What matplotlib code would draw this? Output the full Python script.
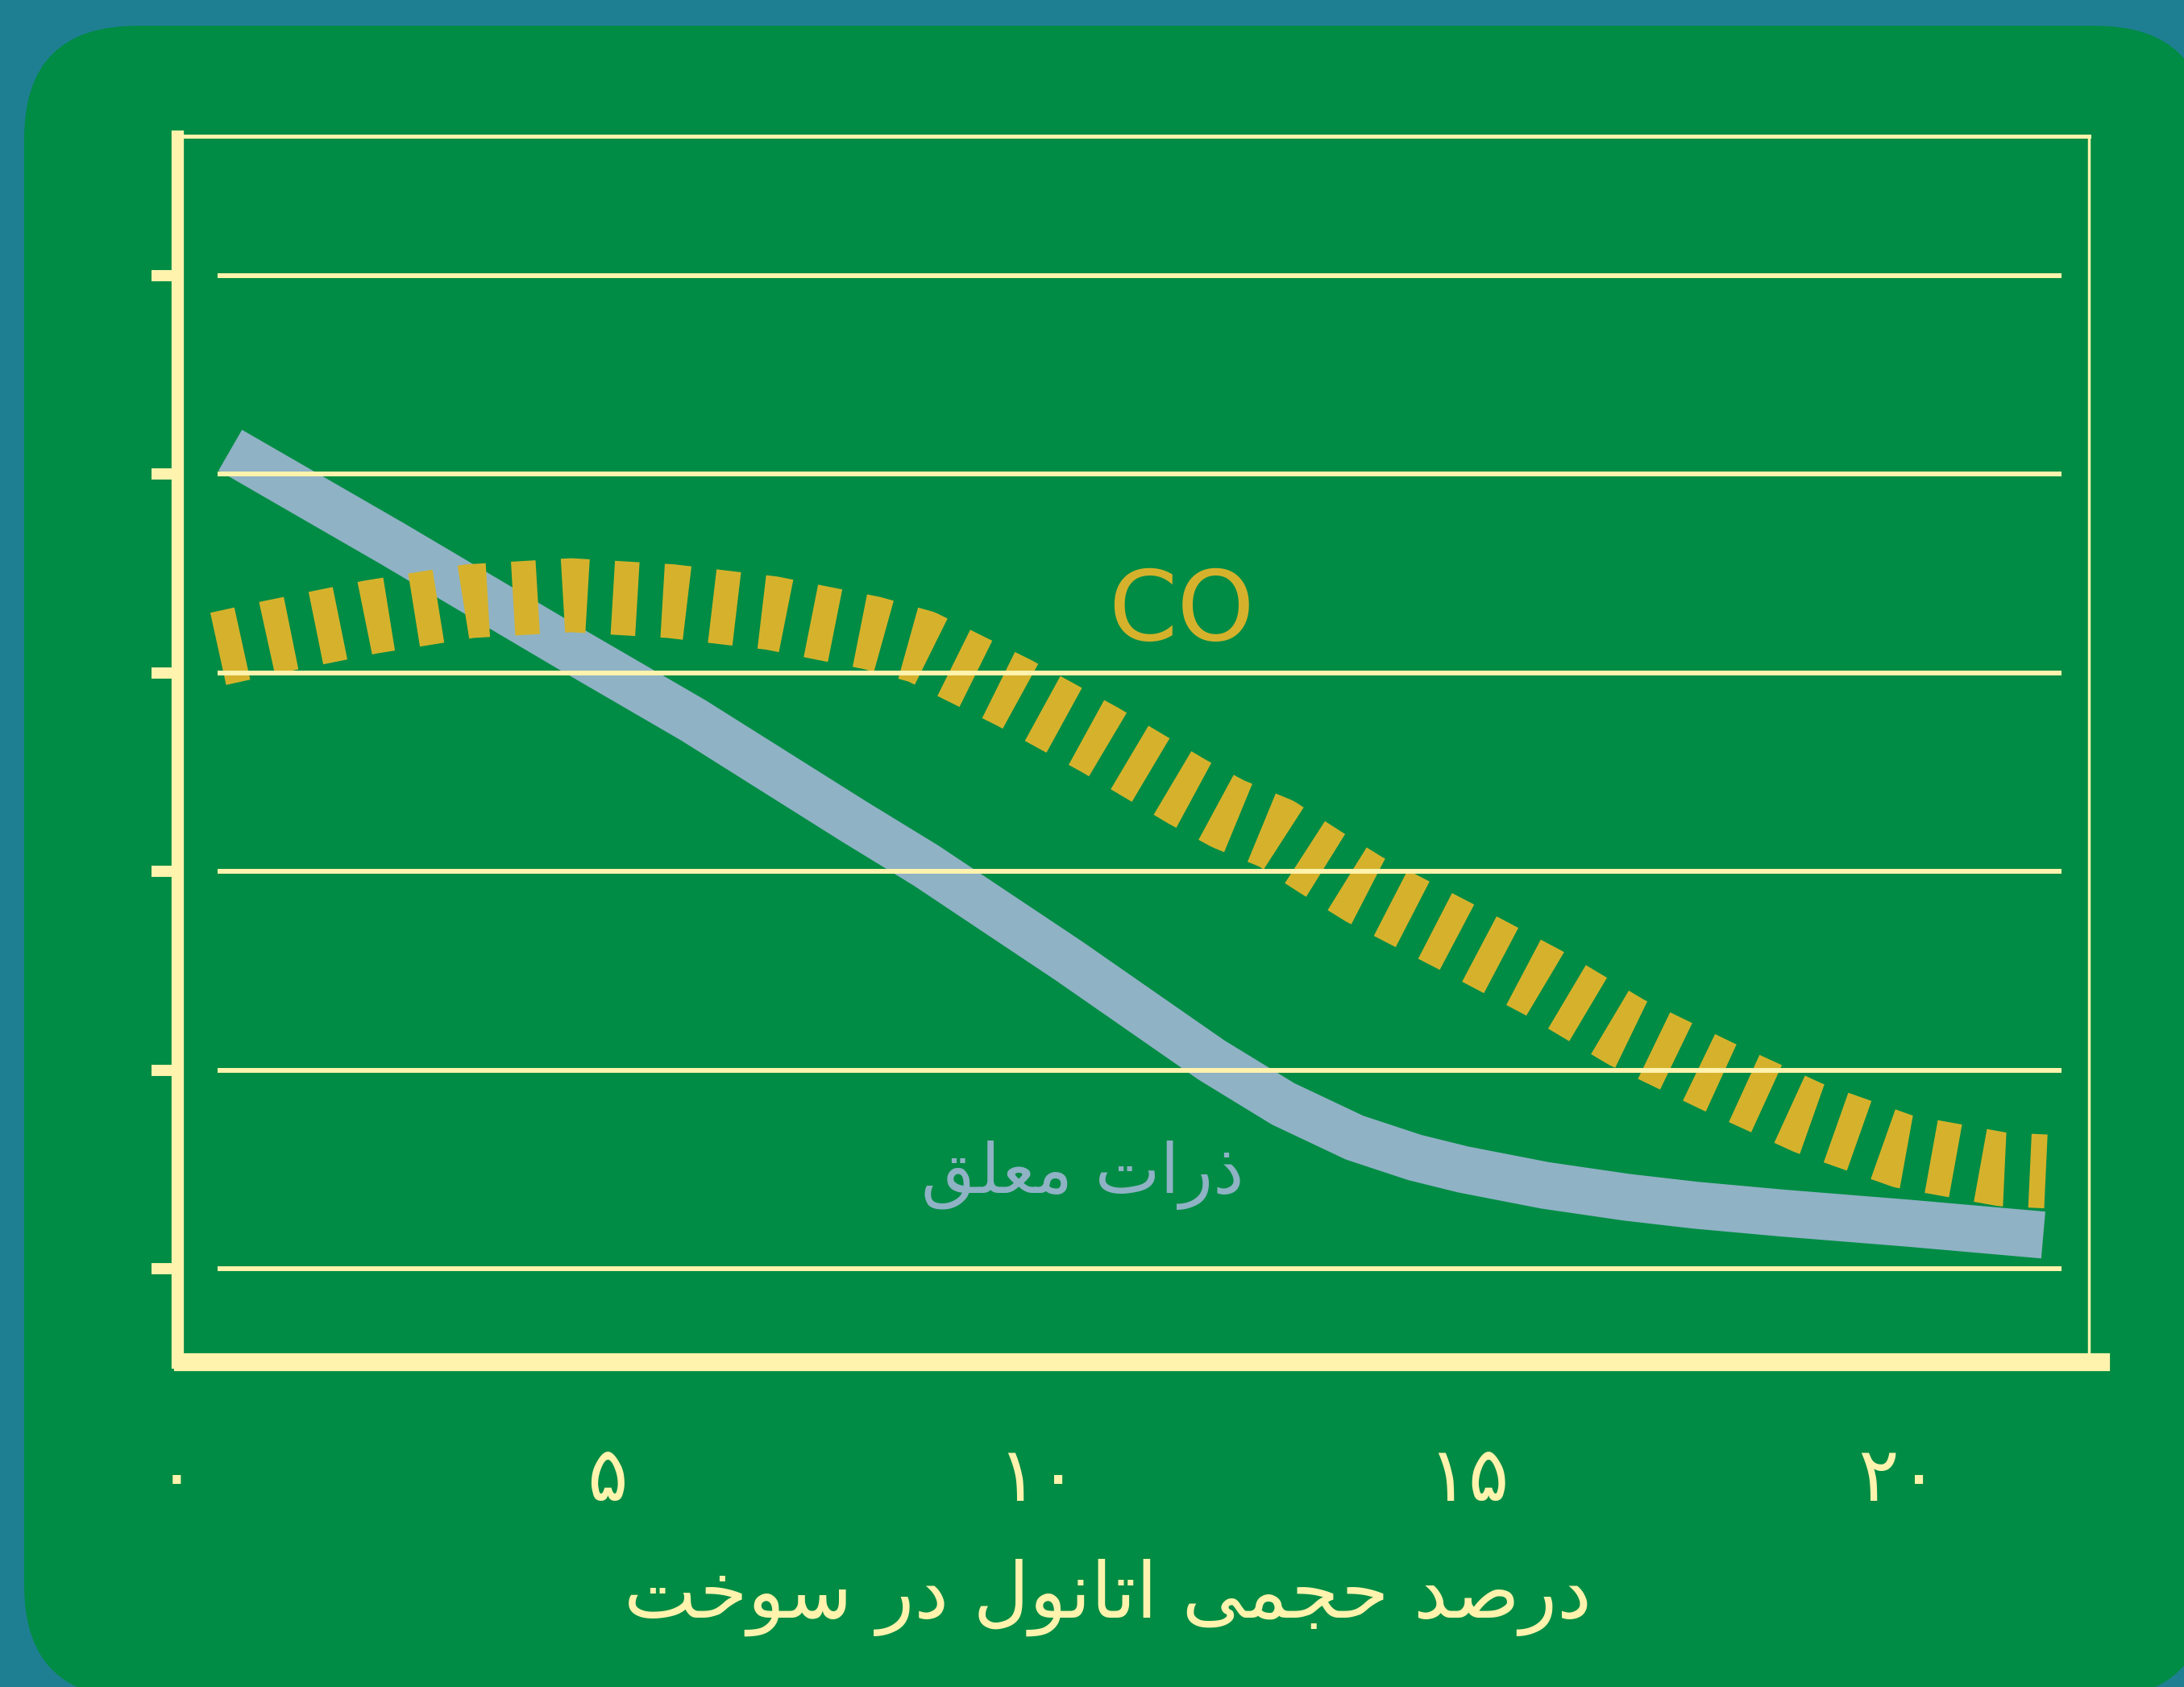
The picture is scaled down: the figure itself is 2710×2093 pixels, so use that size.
import matplotlib
matplotlib.use('Agg')
import matplotlib.pyplot as plt
from matplotlib.patches import FancyBboxPatch

# داده‌ها (خوانده شده از تصویر)
ethanol = [0, 5, 10, 15, 20]
tick_labels = ['۰', '۵', '۱۰', '۱۵', '۲۰']
grid_vals = [0, 1, 2, 3, 4, 5]

pm_x = [0.62, 2.5, 4.53, 6.0, 7.87, 8.70, 9.53, 10.36, 11.19, 12.02, 12.85, 13.68, 14.38,
        14.94, 15.89, 16.84, 17.64, 18.66, 20.1, 21.68]
pm_y = [4.12, 3.65, 3.13, 2.76, 2.25, 2.03, 1.79, 1.55, 1.30, 1.05, 0.83, 0.66, 0.56,
        0.50, 0.42, 0.36, 0.32, 0.28, 0.23, 0.17]

co_x = [0.48, 1.11, 2.25, 3.40, 4.58, 5.74, 6.91, 8.07, 8.65, 9.72, 10.73, 11.74, 12.21, 12.77,
        13.27, 13.79, 14.82, 15.87, 16.84, 17.89, 18.95, 20.06, 21.21, 21.71]
co_y = [3.12, 3.18, 3.28, 3.36, 3.39, 3.36, 3.30, 3.20, 3.13, 2.90, 2.66, 2.40, 2.29, 2.19,
        2.05, 1.91, 1.68, 1.44, 1.19, 0.97, 0.76, 0.59, 0.50, 0.49]

xlabel = 'درصد حجمی اتانول در سوخت'
pm_label = 'ذرات معلق'
co_label = 'CO'

# رنگ‌ها
bg_col = '#1f7f92'
green = '#008c44'
cream = '#fff3ad'
gold = '#d6b22c'
blue = '#8fb2c5'

# شکل‌دهی ساده حروف فارسی (matplotlib خودش این کار را نمی‌کند)
FORMS = {
    'ا': ('\uFE8D', '\uFE8E', None, None),
    'د': ('\uFEA9', '\uFEAA', None, None),
    'ذ': ('\uFEAB', '\uFEAC', None, None),
    'ر': ('\uFEAD', '\uFEAE', None, None),
    'و': ('\uFEED', '\uFEEE', None, None),
    'ت': ('\uFE95', '\uFE96', '\uFE97', '\uFE98'),
    'ج': ('\uFE9D', '\uFE9E', '\uFE9F', '\uFEA0'),
    'ح': ('\uFEA1', '\uFEA2', '\uFEA3', '\uFEA4'),
    'خ': ('\uFEA5', '\uFEA6', '\uFEA7', '\uFEA8'),
    'س': ('\uFEB1', '\uFEB2', '\uFEB3', '\uFEB4'),
    'ص': ('\uFEB9', '\uFEBA', '\uFEBB', '\uFEBC'),
    'ع': ('\uFEC9', '\uFECA', '\uFECB', '\uFECC'),
    'ق': ('\uFED5', '\uFED6', '\uFED7', '\uFED8'),
    'ل': ('\uFEDD', '\uFEDE', '\uFEDF', '\uFEE0'),
    'م': ('\uFEE1', '\uFEE2', '\uFEE3', '\uFEE4'),
    'ن': ('\uFEE5', '\uFEE6', '\uFEE7', '\uFEE8'),
    'ی': ('\uFBFC', '\uFBFD', '\uFBFE', '\uFBFF'),
}


def shape(text):
    out = []
    for i, ch in enumerate(text):
        if ch not in FORMS:
            out.append(ch)
            continue
        f = FORMS[ch]
        prev = text[i - 1] if i > 0 else ''
        nxt = text[i + 1] if i < len(text) - 1 else ''
        jp = prev in FORMS and FORMS[prev][2] is not None
        jn = f[2] is not None and nxt in FORMS
        if jp and jn:
            out.append(f[3])
        elif jp:
            out.append(f[1])
        elif jn:
            out.append(f[2])
        else:
            out.append(f[0])
    return ''.join(reversed(out))


plt.rcParams['lines.scale_dashes'] = False
plt.rcParams['font.family'] = ['DejaVu Sans']

W, H = 2710, 2093
fig = plt.figure(figsize=(W / 100, H / 100), dpi=100)
fig.patch.set_facecolor(bg_col)

# پس‌زمینه سبز با گوشه‌های گرد
bg = fig.add_axes([0, 0, 1, 1])
bg.set_xlim(0, W)
bg.set_ylim(H, 0)
bg.axis('off')
bg.add_patch(FancyBboxPatch((30, 32), 2710, 2075, boxstyle='round,pad=0,rounding_size=140',
                            fc=green, ec='none'))

ax = fig.add_axes([219.5 / W, (H - 1690) / H, (2592 - 219.5) / W, (1690 - 169) / H])
ax.set_facecolor('none')
ax.set_xlim(0.144, 22.21)
ax.set_ylim(-0.47, 5.70)

for side in ['top', 'right', 'left', 'bottom']:
    ax.spines[side].set_color(cream)
ax.spines['top'].set_linewidth(3.6)
ax.spines['right'].set_linewidth(2.5)
ax.spines['left'].set_linewidth(11)
ax.spines['bottom'].set_linewidth(16)
ax.spines['bottom'].set_bounds(0.07, 22.35)
ax.spines['left'].set_bounds(-0.47, 5.70)

# خطوط افقی
ax.hlines(grid_vals, 0.47, 21.89, color=cream, lw=4.3, zorder=5)

ax.plot(pm_x, pm_y, color=blue, lw=42, solid_capstyle='butt', solid_joinstyle='round', zorder=2)
ax.plot(co_x, co_y, color=gold, lw=66, dashes=(22, 22.6), dash_capstyle='butt', zorder=3)

ax.set_yticks(grid_vals)
ax.set_yticklabels([])
ax.tick_params(axis='y', direction='out', length=23, width=10, color=cream)
ax.set_xticks(ethanol)
ax.set_xticklabels(tick_labels, fontsize=68, color=cream)
ax.tick_params(axis='x', length=0, pad=72)

ax.text(11.67, 3.30, co_label, fontsize=88, color=gold, ha='center', va='center', zorder=6)
ax.text(10.52, 0.47, shape(pm_label), fontsize=62, color=blue, ha='center', va='center', zorder=6)

fig.text(1374 / W, 1 - 1982 / H, shape(xlabel), fontsize=69, color=cream, ha='center', va='center')

fig.savefig('out.png', dpi=100, facecolor=fig.get_facecolor())
